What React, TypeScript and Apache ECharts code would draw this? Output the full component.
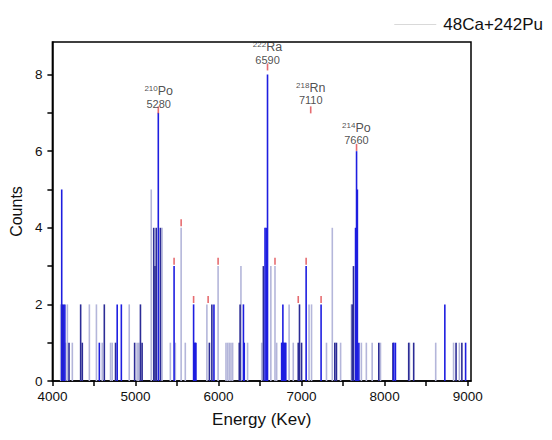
import React, { useEffect, useRef } from 'react';
import * as echarts from 'echarts';

// Spectrum spikes, grouped by drawing shade
const blueE = [4112, 4135, 4150, 4565, 4780, 4830, 5275, 5465, 5700, 5710, 5720, 5728, 5945, 6300, 6310, 6560, 6575, 6590, 6760, 6770, 6775, 6782, 6790, 6800, 6810, 7055, 7235, 7650, 7662, 7672, 7690, 8110, 8130, 8725, 8975];
const blueC = [5, 2, 2, 1, 2, 2, 7, 3, 2, 1, 1, 1, 2, 2, 1, 4, 4, 8, 1, 1, 2, 1, 1, 1, 1, 3, 2, 4, 6, 5, 1, 1, 1, 2, 1];

const navyE = [4120, 4200, 4340, 4360, 4625, 4760, 4990, 5060, 5080, 5220, 5235, 5250, 5300, 5890, 5920, 6250, 6260, 6540, 6960, 6975, 7000, 7400, 7420, 7610, 7625, 7930, 8100, 8290, 8350, 8860, 8930];
const navyC = [2, 1, 2, 1, 2, 1, 1, 2, 1, 4, 3, 4, 4, 1, 2, 1, 2, 3, 1, 2, 1, 1, 1, 2, 3, 1, 1, 1, 1, 1, 1];

const lightE = [4100, 4160, 4180, 4240, 4445, 4530, 4600, 4700, 4720, 4925, 5020, 5040, 5190, 5320, 5420, 5480, 5550, 5600, 5860, 5995, 6090, 6110, 6130, 6150, 6170, 6270, 6350, 6520, 6630, 6680, 6700, 6850, 6900, 7090, 7120, 7300, 7370, 7470, 7600, 7720, 7780, 7850, 7950, 8300, 8615, 8830, 8900];
const lightC = [2, 1, 2, 1, 2, 2, 1, 1, 1, 2, 1, 1, 5, 4, 1, 1, 4, 1, 2, 3, 1, 1, 1, 1, 1, 3, 1, 1, 3, 3, 1, 2, 1, 2, 2, 1, 4, 1, 2, 1, 1, 1, 1, 1, 1, 1, 1];

// Red tips at top of some spikes
const tipE = [5275, 5465, 5550, 5700, 5875, 5995, 6590, 6680, 6960, 7055, 7110, 7235, 7662];
const tipC = [7, 3.05, 4.05, 2.05, 2.05, 3.05, 8.12, 3.05, 2.05, 3.05, 7.0, 2.05, 6.02];

// Peak annotations
const annIso = ['210', '222', '218', '214'];
const annEl = ['Po', 'Ra', 'Rn', 'Po'];
const annE = [5280, 6590, 7110, 7660];
const annC = [7, 8.15, 7.1, 6.05];

const xTicks = [4000, 5000, 6000, 7000, 8000, 9000];
const yTicks = [0, 2, 4, 6, 8];

const FONT = 'Arial, "Liberation Sans", sans-serif';

const pairs = (e: number[], c: number[]) => e.map((x, i) => [x, c[i]]);

export default function App() {
  const ref = useRef<HTMLDivElement>(null);
  useEffect(() => {
    const chart = echarts.init(ref.current!, null, { renderer: 'svg' });
    const barBase = {
      type: 'bar',
      barWidth: 1.6,
      barGap: '-100%',
      silent: true,
      legendHoverLink: false,
    };
    chart.setOption({
      animation: false,
      backgroundColor: '#ffffff',
      grid: {
        left: 51,
        right: 81,
        top: 42,
        bottom: 59,
        show: true,
        borderColor: '#000',
        borderWidth: 1.5,
        containLabel: false,
      },
      legend: {
        data: [{ name: '48Ca+242Pu', icon: 'rect' }],
        right: 4,
        top: 11,
        itemWidth: 42,
        itemHeight: 1,
        itemStyle: { color: '#d9d9d9' },
        textStyle: { fontSize: 17, color: '#111', fontFamily: FONT, padding: [0, 0, 0, 2] },
      },
      xAxis: {
        type: 'value',
        min: 4000,
        max: 9040,
        interval: 500,
        name: 'Energy (Kev)',
        nameLocation: 'middle',
        nameGap: 30,
        nameTextStyle: { fontSize: 17, color: '#111', fontFamily: FONT },
        axisLine: { lineStyle: { color: '#000', width: 1.5 } },
        axisTick: { show: true, length: 5, lineStyle: { color: '#000', width: 1.5 } },
        axisLabel: {
          fontSize: 13.5,
          color: '#111',
          fontFamily: FONT,
          margin: 8,
          showMaxLabel: false,
          formatter: (v: number) => (xTicks.includes(v) ? String(v) : ''),
        },
        splitLine: { show: false },
      },
      yAxis: {
        type: 'value',
        min: 0,
        max: 8.85,
        interval: 1,
        name: 'Counts',
        nameLocation: 'middle',
        nameGap: 27,
        nameTextStyle: { fontSize: 16, color: '#111', fontFamily: FONT },
        axisLine: { show: true, lineStyle: { color: '#000', width: 1.5 } },
        axisTick: { show: true, length: 5, lineStyle: { color: '#000', width: 1.5 } },
        axisLabel: {
          fontSize: 13.5,
          color: '#111',
          fontFamily: FONT,
          margin: 10,
          showMaxLabel: false,
          formatter: (v: number) => (yTicks.includes(v) ? String(v) : ''),
        },
        splitLine: { show: false },
      },
      series: [
        {
          name: '48Ca+242Pu',
          type: 'line',
          data: [],
          symbol: 'none',
          lineStyle: { color: '#d9d9d9', width: 1 },
          itemStyle: { color: '#d9d9d9' },
        },
        { ...barBase, name: 'light', data: pairs(lightE, lightC), itemStyle: { color: '#b4b6da' } },
        { ...barBase, name: 'navy', data: pairs(navyE, navyC), itemStyle: { color: '#2c2c96' } },
        { ...barBase, name: 'blue', data: pairs(blueE, blueC), itemStyle: { color: '#1e1ee0' } },
        {
          name: 'tips',
          type: 'scatter',
          silent: true,
          symbol: 'rect',
          symbolSize: [1.6, 7],
          symbolOffset: [0, -3],
          itemStyle: { color: '#e0474c' },
          data: pairs(tipE, tipC),
          z: 5,
        },
        {
          name: 'ann',
          type: 'scatter',
          silent: true,
          symbolSize: 0,
          itemStyle: { color: '#222' },
          data: annE.map((e, i) => [e, annC[i]]),
          label: {
            show: true,
            position: 'top',
            distance: 3,
            align: 'center',
            color: '#222',
            formatter: (p: any) => {
              const i = p.dataIndex;
              return `{sup|${annIso[i]}}{el|${annEl[i]}}\n{num|${annE[i]}}`;
            },
            rich: {
              sup: { fontSize: 8, color: '#222', fontFamily: FONT, verticalAlign: 'top', lineHeight: 13 },
              el: { fontSize: 12.5, color: '#222', fontFamily: FONT, lineHeight: 13 },
              num: { fontSize: 11, color: '#222', fontFamily: FONT, lineHeight: 12 },
            },
          },
          z: 6,
        },
      ],
    });
    return () => chart.dispose();
  }, []);
  return (
    <div
      ref={ref}
      style={{ position: 'absolute', left: 0, top: 0, width: 552, height: 440 }}
    />
  );
}
